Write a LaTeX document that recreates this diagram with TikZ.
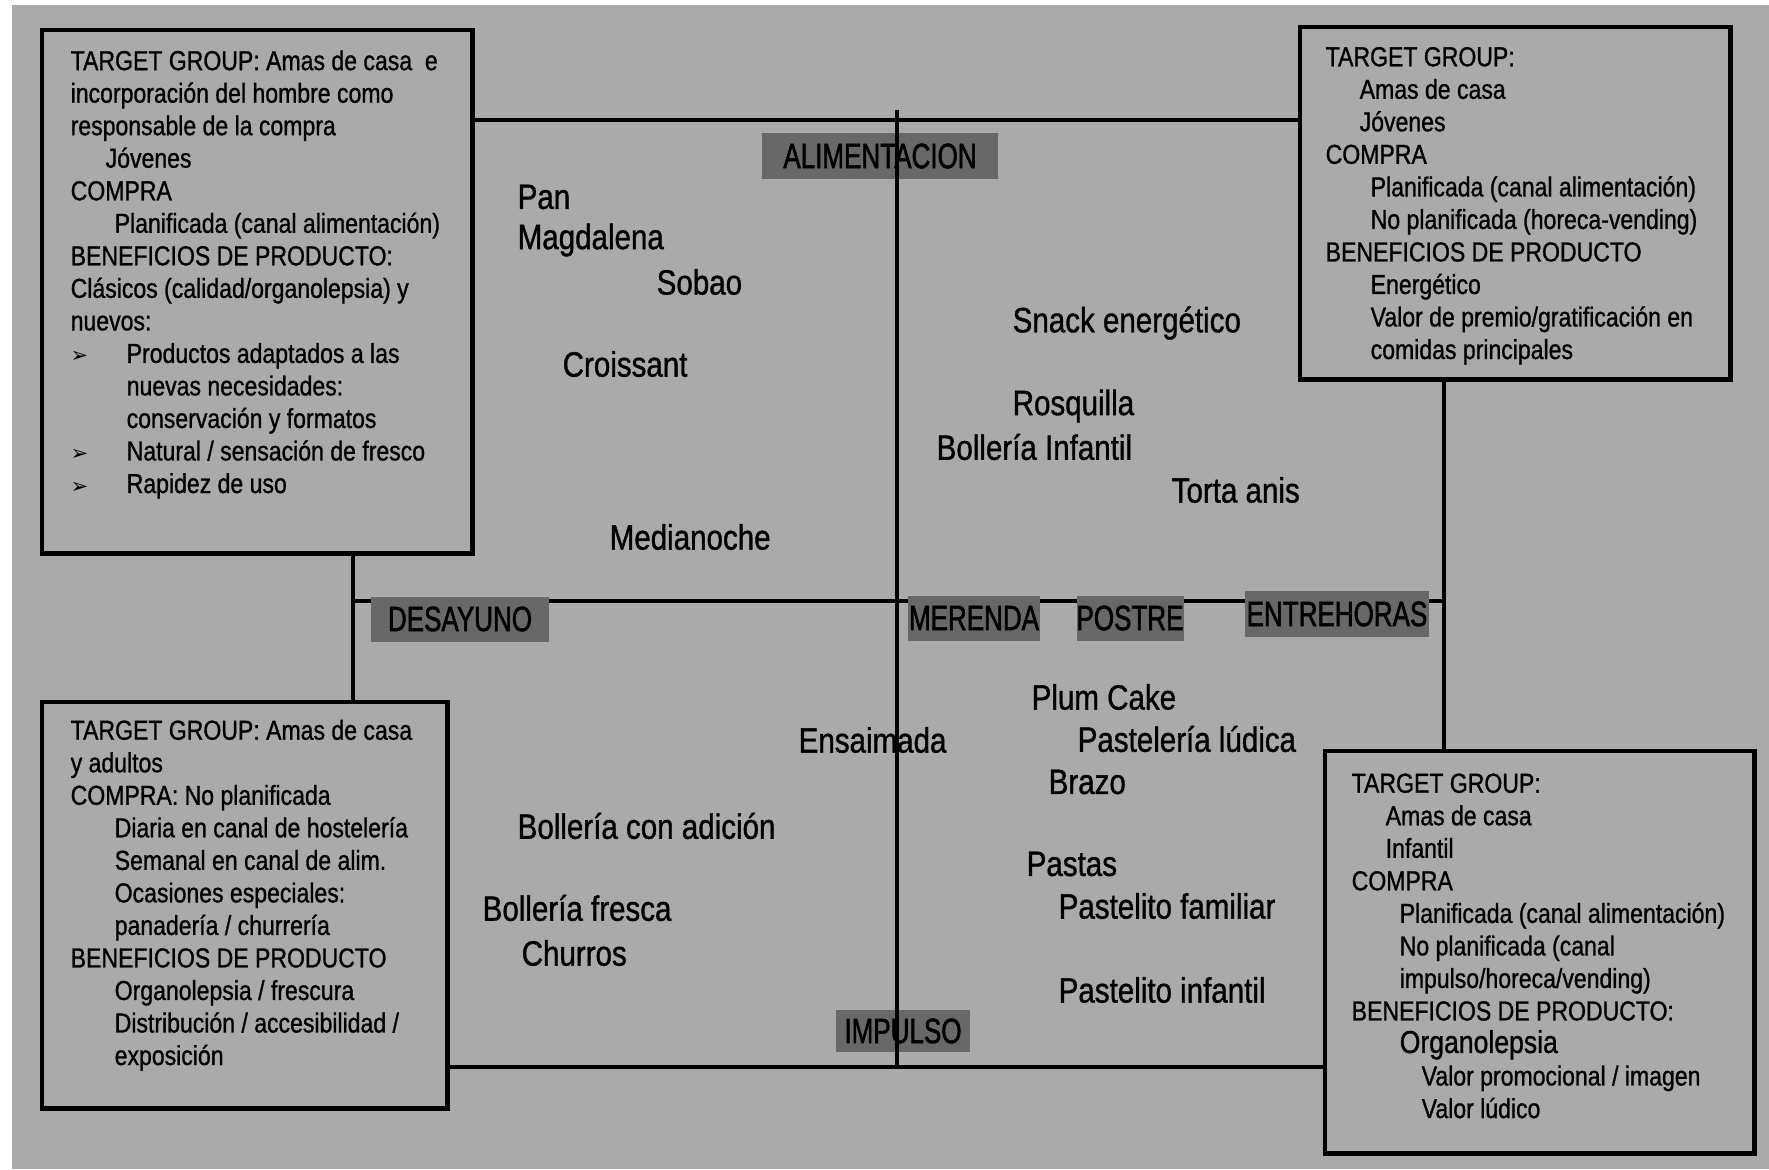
\documentclass[tikz,border=0pt]{standalone}
\usepackage{xcolor}
\usepackage{fontspec}
\setmainfont{Liberation Sans}
\newfontfamily\boxfont[FakeStretch=0.84,FakeBold=1.0]{Liberation Sans}
\newfontfamily\prodfont[FakeStretch=0.84,FakeBold=1.0]{Liberation Sans}
\newfontfamily\tagfont[FakeStretch=0.74,FakeBold=1.5]{Liberation Sans}
\newfontfamily\symfont{DejaVu Sans}
\usepackage{tikz}
\usetikzlibrary{positioning}

\definecolor{bggrey}{HTML}{AAAAAA}
\definecolor{tagfill}{HTML}{686868}
\newcommand{\arrowitem}{\makebox[5.6mm][l]{\symfont\fontsize{6}{6}\selectfont ➢}}
\newcommand{\indentby}[1]{\hspace*{#1mm}}

\begin{document}
\begin{tikzpicture}[x=0.01cm,y=-0.01cm,
	panel/.style={draw,line width=1.3pt,fill=bggrey,anchor=north west,outer sep=0pt,inner sep=0pt},
	paneltext/.style={anchor=base west,inner sep=0pt,align=left,font=\boxfont\fontsize{7.8}{9.25}\selectfont},
	prod/.style={anchor=west,inner sep=0pt,font=\prodfont\fontsize{10}{12}\selectfont},
	tag/.style={fill=tagfill,inner sep=0pt,minimum height=0.45cm,font=\tagfont\fontsize{10}{11}\selectfont},
	axis/.style={line width=1.2pt}]

	% ---------------- Background ----------------
	\fill[white] (0,0) rectangle (1769,1169);
	\fill[bggrey] (12,5) rectangle (1769,1169);
	\useasboundingbox (0,0) rectangle (1769,1169);

	% Rails of the map
	\coordinate (ntop) at (897,110);
	\coordinate (toprail) at (897,120);
	\coordinate (leftpost) at (353,601);
	\coordinate (rightpost) at (1444,601);
	\coordinate (botrail) at (897,1067);

	% ---------------- Panels ----------------
	\node[panel,minimum width=4.30cm,minimum height=5.23cm] (tlbox) at (42,30) {};
	\node[panel,minimum width=4.30cm,minimum height=3.52cm] (trbox) at (1300,27) {};
	\node[panel,minimum width=4.05cm,minimum height=4.06cm] (blbox) at (42,702) {};
	\node[panel,minimum width=4.29cm,minimum height=4.02cm] (brbox) at (1325,751) {};

	% Edges (behind the panels)
	\draw[axis] (tlbox.east |- toprail) -- (trbox.west |- toprail);
	\draw[axis] (tlbox.south -| leftpost) -- (blbox.north -| leftpost);
	\draw[axis] (trbox.south -| rightpost) -- (brbox.north -| rightpost);
	\draw[axis] (leftpost) -- (rightpost);
	\draw[axis] (blbox.east |- botrail) -- (brbox.west |- botrail);

	% Panel texts (anchored on the baseline of their last line)
	\node[paneltext] (tltext) at (70,493) {TARGET GROUP: Amas de casa \ e\\
		incorporación del hombre como\\
		responsable de la compra\\
		\indentby{3.5}Jóvenes\\
		COMPRA\\
		\indentby{4.4}Planificada (canal alimentación)\\
		BENEFICIOS DE PRODUCTO:\\
		Clásicos (calidad/organolepsia) y\\
		nuevos:\\
		\arrowitem Productos adaptados a las\\
		\indentby{5.6}nuevas necesidades:\\
		\indentby{5.6}conservación y formatos\\
		\arrowitem Natural / sensación de fresco\\
		\arrowitem Rapidez de uso};
	\node[paneltext] (trtext) at (1325,359) {TARGET GROUP:\\
		\indentby{3.4}Amas de casa\\
		\indentby{3.4}Jóvenes\\
		COMPRA\\
		\indentby{4.5}Planificada (canal alimentación)\\
		\indentby{4.5}No planificada (horeca-vending)\\
		BENEFICIOS DE PRODUCTO\\
		\indentby{4.5}Energético\\
		\indentby{4.5}Valor de premio/gratificación en\\
		\indentby{4.5}comidas principales};
	\node[paneltext] (bltext) at (70,1065) {TARGET GROUP: Amas de casa\\
		y adultos\\
		COMPRA: No planificada\\
		\indentby{4.4}Diaria en canal de hostelería\\
		\indentby{4.4}Semanal en canal de alim.\\
		\indentby{4.4}Ocasiones especiales:\\
		\indentby{4.4}panadería / churrería\\
		BENEFICIOS DE PRODUCTO\\
		\indentby{4.4}Organolepsia / frescura\\
		\indentby{4.4}Distribución / accesibilidad /\\
		\indentby{4.4}exposición};
	\node[paneltext] (brtext) at (1351,1118) {TARGET GROUP:\\
		\indentby{3.4}Amas de casa\\
		\indentby{3.4}Infantil\\
		COMPRA\\
		\indentby{4.8}Planificada (canal alimentación)\\
		\indentby{4.8}No planificada (canal\\
		\indentby{4.8}impulso/horeca/vending)\\
		BENEFICIOS DE PRODUCTO:\\
		\indentby{4.8}{\fontsize{9}{9.25}\selectfont Organolepsia}\\
		\indentby{7}Valor promocional / imagen\\
		\indentby{7}Valor lúdico};

	% ---------------- Tags ----------------
	\node[tag,minimum width=2.36cm] (tagAlim) at (880,156) {ALIMENTACION};
	\node[tag,minimum width=1.78cm] (tagDesay) at (460,619) {DESAYUNO};
	\node[tag,minimum width=1.32cm] (tagMerenda) at (974,618) {MERENDA};
	\node[tag,minimum width=1.06cm] (tagPostre) at (1130,618) {POSTRE};
	\node[tag,minimum width=1.83cm] (tagEntre) at (1337,614) {ENTREHORAS};
	\node[tag,minimum width=1.33cm,minimum height=0.42cm] (tagImpulso) at (903,1031) {IMPULSO};

	% Vertical axis over the tags
	\draw[axis] (ntop) -- (botrail);

	% ---------------- Products ----------------
	\node[prod] (pan) at (517,197) {Pan};
	\node[prod] (magdalena) at (517,240) {Magdalena};
	\node[prod] (sobao) at (656,282) {Sobao};
	\node[prod] (croissant) at (562,364) {Croissant};
	\node[prod] (medianoche) at (609,537) {Medianoche};
	\node[prod] (snack) at (1012,323) {Snack energético};
	\node[prod] (rosquilla) at (1012,406) {Rosquilla};
	\node[prod] (bollinf) at (936,447) {Bollería Infantil};
	\node[prod] (torta) at (1171,490) {Torta anis};
	\node[prod] (ensaimada) at (798,740) {Ensaimada};
	\node[prod] (plumcake) at (1031,697) {Plum Cake};
	\node[prod] (pastludica) at (1077,739) {Pastelería lúdica};
	\node[prod] (brazo) at (1048,782) {Brazo};
	\node[prod] (bolladic) at (517,826) {Bollería con adición};
	\node[prod] (pastas) at (1026,864) {Pastas};
	\node[prod] (pastfam) at (1058,906) {Pastelito familiar};
	\node[prod] (bollfresca) at (482,908) {Bollería fresca};
	\node[prod] (churros) at (521,953) {Churros};
	\node[prod] (pastinf) at (1058,990) {Pastelito infantil};
\end{tikzpicture}
\end{document}
